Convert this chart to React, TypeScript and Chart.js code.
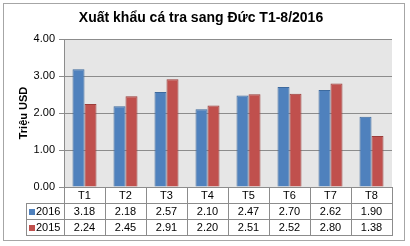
import React, { useEffect, useRef } from "react";
import { Chart, registerables } from "chart.js";

Chart.register(...registerables);

const categories = ["T1", "T2", "T3", "T4", "T5", "T6", "T7", "T8"];
const series2016 = [3.18, 2.18, 2.57, 2.1, 2.47, 2.7, 2.62, 1.9];
const series2015 = [2.24, 2.45, 2.91, 2.2, 2.51, 2.52, 2.8, 1.38];
const seriesNames = ["2016", "2015"];
const chartTitle = "Xuất khẩu cá tra sang Đức T1-8/2016";
const yTitle = "Triệu USD";

const FONT = "Arial, 'Liberation Sans', sans-serif";
const LINE = "#8c8c8c";

const tablePlugin = {
  id: "tablePlugin",
  beforeDraw(chart: any) {
    const { ctx, chartArea } = chart;
    ctx.save();
    ctx.fillStyle = "#ffffff";
    ctx.fillRect(0, 0, chart.width, chart.height);
    ctx.fillStyle = "#e6e6e6";
    ctx.fillRect(chartArea.left, chartArea.top, chartArea.right - chartArea.left, chartArea.bottom - chartArea.top);
    ctx.restore();
  },
  afterDraw(chart: any) {
    const { ctx, chartArea } = chart;
    const xs = chart.scales.x;
    const n = categories.length;
    const left = chartArea.left;
    const right = chartArea.right;
    const top = chartArea.bottom;
    const rowH = 16;
    const keyLeft = 26;
    const w = (right - left) / n;
    ctx.save();
    ctx.strokeStyle = "#a6a6a6";
    ctx.lineWidth = 1;
    ctx.strokeRect(3.5, 3.5, 401, 237);
    // title
    ctx.fillStyle = "#000";
    ctx.font = "bold 14px " + FONT;
    ctx.textAlign = "center";
    ctx.textBaseline = "middle";
    ctx.fillText(chartTitle, 201, 18);
    ctx.strokeStyle = LINE;
    ctx.beginPath();
    for (let i = 0; i <= n; i++) {
      const x = Math.round(left + i * w) + 0.5;
      ctx.moveTo(x, top);
      ctx.lineTo(x, top + rowH * 3);
    }
    ctx.moveTo(keyLeft + 0.5, top + rowH);
    ctx.lineTo(keyLeft + 0.5, top + rowH * 3);
    for (let r = 1; r <= 3; r++) {
      const y = Math.round(top + rowH * r) + 0.5;
      ctx.moveTo(keyLeft, y);
      ctx.lineTo(right + 1, y);
    }
    ctx.stroke();
    ctx.fillStyle = "#000";
    ctx.font = "11px " + FONT;
    ctx.textAlign = "center";
    ctx.textBaseline = "middle";
    const rows = [series2016, series2015];
    categories.forEach((c, i) => {
      const cx = xs.getPixelForValue(i);
      ctx.fillText(c, cx, top + rowH * 0.5 + 1);
      rows.forEach((arr, r) => {
        ctx.fillText(arr[i].toFixed(2), cx, top + rowH * (r + 1.5) + 1);
      });
    });
    const colors = ["#4f81bd", "#c0504d"];
    seriesNames.forEach((s, r) => {
      const cy = top + rowH * (r + 1.5) + 1;
      ctx.fillStyle = colors[r];
      ctx.fillRect(29, Math.round(cy - 3), 6, 6);
      ctx.fillStyle = "#000";
      ctx.textAlign = "left";
      ctx.fillText(s, 36, cy);
    });
    ctx.restore();
  },
};

export default function App() {
  const ref = useRef<HTMLCanvasElement>(null);
  useEffect(() => {
    if (!ref.current) return;
    const chart = new Chart(ref.current, {
      type: "bar",
      data: {
        labels: categories,
        datasets: [
          {
            label: seriesNames[0],
            data: series2016,
            backgroundColor: "#4f81bd",
            borderColor: "#3d6a9e",
            borderWidth: 1,
            categoryPercentage: 0.585,
            barPercentage: 1,
          },
          {
            label: seriesNames[1],
            data: series2015,
            backgroundColor: "#c0504d",
            borderColor: "#9b3d3a",
            borderWidth: 1,
            categoryPercentage: 0.585,
            barPercentage: 1,
          },
        ],
      },
      options: {
        responsive: false,
        animation: false,
        layout: { padding: { left: 0, right: 18, top: 39, bottom: 59 } },
        plugins: {
          legend: { display: false },
          tooltip: { enabled: false },
          title: { display: false },
        },
        scales: {
          x: { display: false },
          y: {
            min: 0,
            max: 4,
            afterFit(scale: any) {
              scale.width = 64;
            },
            ticks: {
              stepSize: 1,
              color: "#000",
              padding: 4,
              font: { family: FONT, size: 11 },
              callback: (v: any) => Number(v).toFixed(2),
            },
            grid: { color: LINE, tickLength: 5, drawTicks: true },
            border: { color: LINE },
            title: {
              display: true,
              text: yTitle,
              color: "#000",
              font: { family: FONT, size: 11, weight: "bold" },
              padding: { top: 17, bottom: 0 },
            },
          },
        },
      },
      plugins: [tablePlugin],
    });
    return () => chart.destroy();
  }, []);
  return (
    <div style={{ position: "fixed", left: 0, top: 0, width: 410, height: 246, background: "#fff" }}>
      <canvas ref={ref} width={410} height={246} style={{ display: "block" }} />
    </div>
  );
}
